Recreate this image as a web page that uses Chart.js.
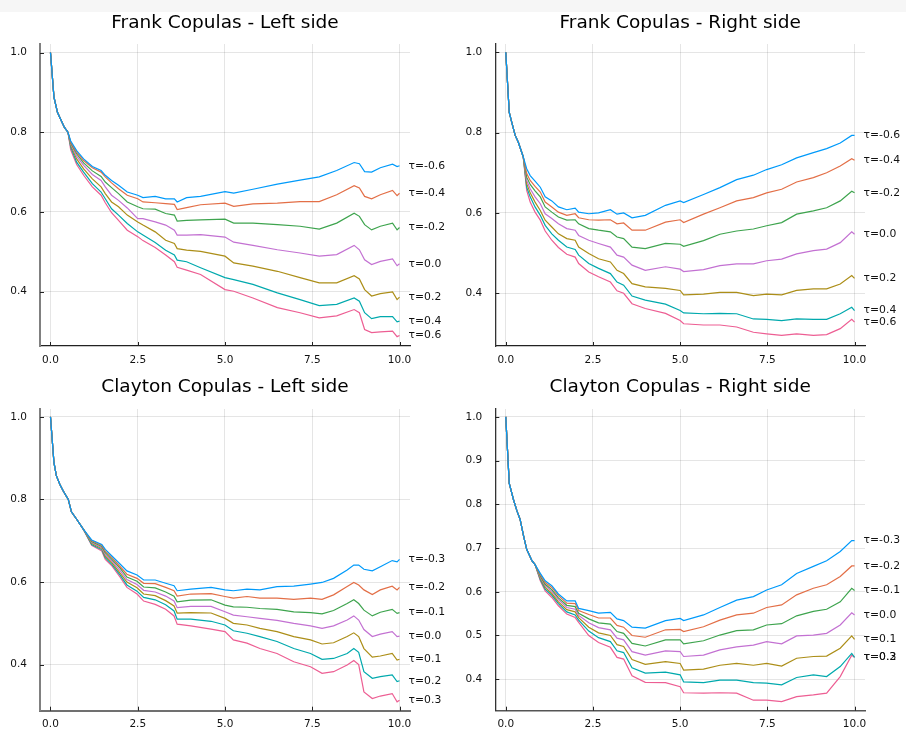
<!DOCTYPE html>
<html><head><meta charset="utf-8">
<script src="https://cdn.jsdelivr.net/npm/chart.js@4"></script>
<style>
html,body{margin:0;padding:0;background:#fff;width:906px;height:739px;overflow:hidden;}
#band{position:absolute;left:0;top:0;width:906px;height:12px;background:#f6f6f6;}
canvas{position:absolute;}
</style></head><body>
<div id="band"></div>
<canvas id="c1" width="453" height="364" style="left:0px;top:12px"></canvas>
<canvas id="c2" width="453" height="364" style="left:453px;top:12px"></canvas>
<canvas id="c3" width="453" height="363" style="left:0px;top:376px"></canvas>
<canvas id="c4" width="453" height="363" style="left:453px;top:376px"></canvas>
<script>
// ---------------- DATA ----------------
const frankTaus = ['-0.6','-0.4','-0.2','0.0','0.2','0.4','0.6'];
const claytonTaus = ['-0.3','-0.2','-0.1','0.0','0.1','0.2','0.3'];
const xTicks = [0, 2.5, 5, 7.5, 10];
const yTicksFrank = [0.4, 0.6, 0.8, 1.0];
const yTicksClaytonLeft = [0.4, 0.6, 0.8, 1.0];
const yTicksClaytonRight = [0.4, 0.5, 0.6, 0.7, 0.8, 0.9, 1.0];

// Frank - Left side
const frankLeftX = [0,0.1,0.2,0.3,0.4,0.5,0.58,0.75,0.95,1.2,1.45,1.57,1.75,1.95,2.2,2.5,2.65,3.0,3.3,3.55,3.63,3.9,4.3,5.0,5.25,5.8,6.5,7.15,7.7,8.2,8.7,8.85,9.0,9.2,9.45,9.8,9.93,10.0];
const frankLeft1 = [1.0,0.888,0.85,0.831,0.812,0.80,0.778,0.754,0.733,0.714,0.704,0.692,0.679,0.667,0.65,0.642,0.636,0.639,0.633,0.633,0.625,0.636,0.639,0.651,0.647,0.657,0.670,0.680,0.688,0.704,0.724,0.721,0.701,0.700,0.711,0.720,0.714,0.716];
const frankLeft2 = [1.0,0.888,0.85,0.831,0.812,0.80,0.775,0.75,0.729,0.711,0.70,0.688,0.673,0.658,0.642,0.633,0.625,0.623,0.621,0.619,0.606,0.611,0.618,0.622,0.614,0.62,0.622,0.626,0.626,0.643,0.666,0.66,0.639,0.633,0.643,0.654,0.641,0.647];
const frankLeft3 = [1.0,0.888,0.85,0.831,0.812,0.80,0.773,0.746,0.723,0.703,0.689,0.675,0.661,0.646,0.625,0.613,0.608,0.607,0.596,0.592,0.577,0.579,0.58,0.582,0.572,0.572,0.568,0.564,0.557,0.572,0.597,0.589,0.568,0.555,0.564,0.572,0.555,0.561];
const frankLeft4 = [1.0,0.888,0.85,0.831,0.812,0.80,0.771,0.74,0.717,0.694,0.679,0.663,0.642,0.629,0.61,0.583,0.583,0.575,0.567,0.554,0.542,0.542,0.543,0.537,0.524,0.516,0.505,0.497,0.489,0.493,0.516,0.505,0.48,0.468,0.476,0.482,0.465,0.47];
const frankLeft5 = [1.0,0.888,0.85,0.831,0.812,0.80,0.767,0.733,0.708,0.683,0.663,0.646,0.625,0.613,0.592,0.575,0.567,0.55,0.529,0.521,0.508,0.504,0.501,0.489,0.472,0.464,0.451,0.435,0.422,0.422,0.44,0.432,0.405,0.389,0.395,0.399,0.38,0.386];
const frankLeft6 = [1.0,0.888,0.85,0.831,0.812,0.80,0.763,0.725,0.70,0.671,0.65,0.633,0.608,0.592,0.571,0.55,0.542,0.523,0.504,0.492,0.479,0.475,0.46,0.435,0.43,0.418,0.397,0.38,0.365,0.368,0.384,0.376,0.347,0.332,0.337,0.337,0.324,0.326];
const frankLeft7 = [1.0,0.888,0.85,0.831,0.812,0.80,0.756,0.719,0.692,0.663,0.642,0.623,0.598,0.579,0.554,0.538,0.528,0.511,0.492,0.475,0.461,0.454,0.443,0.405,0.401,0.384,0.36,0.347,0.334,0.339,0.355,0.347,0.305,0.297,0.299,0.301,0.287,0.29];

// Frank - Right side
const frankRightX = [0,0.1,0.17,0.27,0.36,0.5,0.6,0.7,0.84,0.99,1.13,1.32,1.51,1.75,1.99,2.09,2.38,2.66,3.0,3.19,3.38,3.62,4.0,4.58,5.0,5.1,5.67,6.14,6.62,7.1,7.48,7.91,8.34,8.82,9.2,9.59,9.92,10.0];
const frankRight1 = [1.0,0.85,0.826,0.793,0.776,0.74,0.71,0.693,0.679,0.664,0.64,0.63,0.615,0.608,0.612,0.602,0.598,0.6,0.608,0.597,0.6,0.588,0.594,0.619,0.63,0.626,0.646,0.663,0.683,0.694,0.708,0.72,0.737,0.75,0.76,0.774,0.793,0.793];
const frankRight2 = [1.0,0.85,0.826,0.793,0.776,0.74,0.698,0.681,0.666,0.652,0.627,0.615,0.602,0.594,0.598,0.588,0.583,0.582,0.583,0.573,0.575,0.557,0.557,0.577,0.583,0.576,0.597,0.613,0.63,0.638,0.65,0.659,0.677,0.688,0.70,0.717,0.735,0.731];
const frankRight3 = [1.0,0.85,0.826,0.793,0.776,0.74,0.689,0.671,0.655,0.64,0.615,0.602,0.59,0.582,0.583,0.573,0.561,0.557,0.553,0.54,0.536,0.515,0.511,0.524,0.522,0.517,0.531,0.547,0.555,0.56,0.568,0.576,0.597,0.605,0.613,0.63,0.654,0.65];
const frankRight4 = [1.0,0.85,0.826,0.793,0.776,0.74,0.681,0.66,0.64,0.623,0.598,0.586,0.573,0.561,0.557,0.544,0.532,0.524,0.515,0.495,0.49,0.47,0.457,0.466,0.46,0.454,0.459,0.469,0.473,0.473,0.481,0.485,0.498,0.506,0.51,0.526,0.553,0.547];
const frankRight5 = [1.0,0.85,0.826,0.793,0.776,0.74,0.673,0.65,0.627,0.606,0.582,0.565,0.548,0.536,0.532,0.515,0.499,0.486,0.478,0.457,0.449,0.424,0.416,0.412,0.407,0.396,0.398,0.402,0.402,0.394,0.398,0.396,0.407,0.411,0.411,0.423,0.444,0.437];
const frankRight6 = [1.0,0.85,0.826,0.793,0.776,0.74,0.664,0.64,0.615,0.594,0.569,0.548,0.532,0.515,0.509,0.495,0.474,0.462,0.449,0.428,0.42,0.393,0.383,0.373,0.357,0.351,0.349,0.35,0.349,0.336,0.335,0.332,0.336,0.335,0.335,0.349,0.365,0.357];
const frankRight7 = [1.0,0.85,0.826,0.793,0.776,0.74,0.656,0.627,0.602,0.582,0.555,0.532,0.514,0.497,0.49,0.474,0.453,0.441,0.428,0.406,0.40,0.374,0.362,0.35,0.332,0.324,0.321,0.321,0.316,0.303,0.299,0.295,0.299,0.295,0.297,0.312,0.335,0.328];

// Clayton - Left side
const claytonLeftX = [0,0.1,0.17,0.27,0.37,0.51,0.6,0.75,0.94,1.18,1.47,1.57,1.76,2.0,2.19,2.48,2.67,3.0,3.3,3.54,3.63,4.02,4.6,5.0,5.24,5.63,6.0,6.49,6.97,7.45,7.78,8.11,8.5,8.69,8.83,8.98,9.22,9.45,9.79,9.93,10.0];
const claytonLeft1 = [1.0,0.889,0.857,0.836,0.82,0.80,0.77,0.752,0.728,0.702,0.691,0.679,0.663,0.643,0.627,0.617,0.605,0.605,0.597,0.591,0.579,0.583,0.587,0.581,0.579,0.583,0.581,0.589,0.59,0.595,0.599,0.609,0.629,0.641,0.641,0.631,0.627,0.637,0.652,0.649,0.655];
const claytonLeft2 = [1.0,0.889,0.857,0.836,0.82,0.80,0.77,0.752,0.728,0.700,0.689,0.675,0.659,0.637,0.619,0.609,0.597,0.596,0.587,0.579,0.566,0.571,0.572,0.565,0.561,0.565,0.561,0.561,0.558,0.561,0.558,0.569,0.589,0.599,0.593,0.581,0.57,0.581,0.59,0.581,0.587];
const claytonLeft3 = [1.0,0.889,0.857,0.836,0.82,0.80,0.77,0.752,0.728,0.698,0.686,0.671,0.655,0.633,0.612,0.602,0.588,0.586,0.576,0.566,0.552,0.556,0.557,0.544,0.54,0.539,0.536,0.534,0.528,0.526,0.523,0.531,0.548,0.557,0.548,0.532,0.518,0.527,0.534,0.524,0.526];
const claytonLeft4 = [1.0,0.889,0.857,0.836,0.82,0.80,0.77,0.752,0.728,0.696,0.683,0.667,0.651,0.627,0.606,0.594,0.580,0.576,0.566,0.554,0.538,0.541,0.541,0.528,0.52,0.516,0.512,0.507,0.5,0.494,0.488,0.494,0.508,0.518,0.508,0.485,0.468,0.474,0.48,0.468,0.469];
const claytonLeft5 = [1.0,0.889,0.857,0.836,0.82,0.80,0.77,0.752,0.728,0.694,0.681,0.663,0.647,0.621,0.60,0.586,0.571,0.567,0.555,0.542,0.525,0.526,0.525,0.512,0.50,0.496,0.488,0.48,0.468,0.46,0.45,0.453,0.468,0.477,0.468,0.439,0.418,0.421,0.427,0.411,0.413];
const claytonLeft6 = [1.0,0.889,0.857,0.836,0.82,0.80,0.77,0.752,0.728,0.691,0.678,0.659,0.643,0.616,0.593,0.578,0.563,0.557,0.545,0.530,0.51,0.51,0.505,0.496,0.482,0.476,0.468,0.456,0.439,0.427,0.413,0.415,0.427,0.439,0.43,0.383,0.367,0.371,0.375,0.359,0.361];
const claytonLeft7 = [1.0,0.889,0.857,0.836,0.82,0.80,0.77,0.752,0.728,0.689,0.675,0.655,0.639,0.611,0.587,0.571,0.554,0.546,0.534,0.518,0.498,0.494,0.486,0.48,0.46,0.452,0.439,0.427,0.407,0.395,0.379,0.383,0.399,0.41,0.40,0.334,0.318,0.324,0.33,0.31,0.314];

// Clayton - Right side
const claytonRightX = [0,0.1,0.22,0.32,0.41,0.51,0.6,0.75,0.84,0.99,1.13,1.32,1.51,1.75,1.99,2.09,2.38,2.66,3.0,3.19,3.38,3.62,4.0,4.58,5.0,5.1,5.67,6.14,6.62,7.1,7.48,7.91,8.34,8.82,9.2,9.59,9.92,10.0];
const claytonRight1 = [1.0,0.848,0.811,0.785,0.766,0.728,0.697,0.671,0.662,0.642,0.625,0.614,0.595,0.579,0.579,0.562,0.557,0.551,0.553,0.538,0.534,0.519,0.517,0.534,0.539,0.534,0.547,0.564,0.581,0.589,0.604,0.616,0.642,0.658,0.671,0.692,0.717,0.717];
const claytonRight2 = [1.0,0.848,0.811,0.785,0.766,0.728,0.697,0.671,0.662,0.639,0.621,0.610,0.591,0.574,0.573,0.557,0.548,0.54,0.54,0.523,0.519,0.50,0.496,0.513,0.514,0.509,0.52,0.535,0.547,0.551,0.564,0.57,0.593,0.608,0.616,0.635,0.659,0.659];
const claytonRight3 = [1.0,0.848,0.811,0.785,0.766,0.728,0.697,0.671,0.662,0.636,0.617,0.605,0.586,0.569,0.566,0.551,0.538,0.529,0.526,0.509,0.505,0.482,0.476,0.49,0.49,0.481,0.488,0.501,0.511,0.513,0.524,0.527,0.545,0.555,0.56,0.577,0.608,0.603];
const claytonRight4 = [1.0,0.848,0.811,0.785,0.766,0.728,0.697,0.671,0.662,0.634,0.614,0.601,0.582,0.564,0.56,0.546,0.529,0.518,0.513,0.494,0.49,0.463,0.455,0.465,0.463,0.452,0.455,0.467,0.474,0.478,0.486,0.481,0.499,0.501,0.505,0.524,0.552,0.547];
const claytonRight5 = [1.0,0.848,0.811,0.785,0.766,0.728,0.697,0.671,0.662,0.631,0.61,0.596,0.577,0.559,0.554,0.541,0.519,0.506,0.5,0.479,0.475,0.445,0.434,0.44,0.436,0.421,0.423,0.432,0.436,0.432,0.436,0.43,0.448,0.452,0.453,0.471,0.499,0.491];
const claytonRight6 = [1.0,0.848,0.811,0.785,0.766,0.728,0.697,0.671,0.662,0.628,0.606,0.592,0.573,0.554,0.547,0.535,0.51,0.495,0.486,0.465,0.461,0.426,0.414,0.416,0.41,0.394,0.392,0.398,0.398,0.392,0.391,0.387,0.404,0.41,0.406,0.429,0.459,0.45];
const claytonRight7 = [1.0,0.848,0.811,0.785,0.766,0.728,0.697,0.671,0.662,0.625,0.602,0.587,0.568,0.549,0.541,0.53,0.50,0.484,0.473,0.45,0.446,0.408,0.393,0.392,0.383,0.369,0.368,0.369,0.368,0.352,0.352,0.349,0.36,0.364,0.368,0.406,0.455,0.45];

// ---------------- STYLE ----------------
const palette = ['#009AFA','#E36F47','#3EA44E','#C371D2','#AC8E18','#00A9AD','#ED5E93'];
const FONT = '"DejaVu Sans", "Liberation Sans", sans-serif';

const endLabels = {
  id: 'endLabels',
  afterDatasetsDraw(chart) {
    const {ctx, scales: {x, y}} = chart;
    ctx.save();
    ctx.font = '10.8px ' + FONT;
    ctx.fillStyle = '#111';
    ctx.textAlign = 'left';
    ctx.textBaseline = 'middle';
    chart.data.datasets.forEach(ds => {
      const last = ds.data[ds.data.length - 1];
      ctx.fillText(ds.label, x.getPixelForValue(last.x) + 9, y.getPixelForValue(last.y));
    });
    ctx.restore();
  }
};
const innerTicks = {
  id: 'innerTicks',
  afterDraw(chart) {
    const {ctx, chartArea: a, scales: {x, y}} = chart;
    ctx.save();
    ctx.strokeStyle = '#222';
    ctx.lineWidth = 1;
    ctx.beginPath();
    y.ticks.forEach(t => { const p = Math.round(y.getPixelForValue(t.value)) + 0.5; ctx.moveTo(a.left, p); ctx.lineTo(a.left + 4, p); });
    x.ticks.forEach(t => { const p = Math.round(x.getPixelForValue(t.value)) + 0.5; ctx.moveTo(p, a.bottom); ctx.lineTo(p, a.bottom - 4); });
    ctx.stroke();
    ctx.restore();
  }
};

function makeChart(id, title, xs, series, taus, yMin, yMax, yTicks, cfg) {
  const datasets = series.map((ys, i) => ({
    label: 'τ=' + taus[i],
    data: xs.map((xv, j) => ({x: xv, y: ys[j]})),
    borderColor: palette[i],
    backgroundColor: palette[i],
    borderWidth: 1.2,
    pointRadius: 0,
    tension: 0,
    fill: false
  }));
  new Chart(document.getElementById(id), {
    type: 'line',
    data: {datasets},
    options: {
      responsive: false,
      animation: false,
      devicePixelRatio: 1,
      layout: {padding: {left: 0, right: cfg.rightPad, top: 0, bottom: 0}},
      plugins: {
        legend: {display: false},
        tooltip: {enabled: false},
        title: {
          display: true, text: title, fullSize: false,
          color: '#000',
          font: {family: FONT, size: 18.5, weight: 'normal', lineHeight: 1.2},
          padding: {top: 0, bottom: cfg.titleGap}
        }
      },
      scales: {
        x: {
          type: 'linear', min: -0.3, max: 10.3,
          afterBuildTicks: s => { s.ticks = xTicks.map(v => ({value: v})); },
          afterFit: s => { s.height = cfg.xAxisH; },
          ticks: {
            autoSkip: false, maxRotation: 0, padding: 7.5, color: '#111',
            font: {family: FONT, size: 10.5},
            callback: v => Number(v).toFixed(1)
          },
          grid: {color: 'rgba(0,0,0,0.1)', lineWidth: 1, drawTicks: false},
          border: {display: true, color: cfg.bottomColor, width: cfg.bottomWidth}
        },
        y: {
          type: 'linear', min: yMin, max: yMax,
          afterBuildTicks: s => { s.ticks = yTicks.map(v => ({value: v})); },
          afterFit: s => { s.width = cfg.yAxisW; },
          ticks: {
            autoSkip: false, padding: 13, color: '#111',
            font: {family: FONT, size: 10.5},
            callback: v => Number(v).toFixed(1)
          },
          grid: {color: 'rgba(0,0,0,0.1)', lineWidth: 1, drawTicks: false},
          border: {display: true, color: cfg.leftColor, width: cfg.leftWidth}
        }
      }
    },
    plugins: [endLabels, innerTicks]
  });
}

makeChart('c1', 'Frank Copulas - Left side', frankLeftX,
  [frankLeft1, frankLeft2, frankLeft3, frankLeft4, frankLeft5, frankLeft6, frankLeft7],
  frankTaus, 0.2635, 1.0215, yTicksFrank,
  {rightPad: 43, yAxisW: 40, xAxisH: 30, titleGap: 9.8, leftColor: '#808080', leftWidth: 2, bottomColor: '#222', bottomWidth: 1.2});
makeChart('c2', 'Frank Copulas - Right side', frankRightX,
  [frankRight1, frankRight2, frankRight3, frankRight4, frankRight5, frankRight6, frankRight7],
  frankTaus, 0.2687, 1.0206, yTicksFrank,
  {rightPad: 41, yAxisW: 42.3, xAxisH: 30, titleGap: 9.8, leftColor: '#333', leftWidth: 1.3, bottomColor: '#222', bottomWidth: 1.2});
makeChart('c3', 'Clayton Copulas - Left side', claytonLeftX,
  [claytonLeft1, claytonLeft2, claytonLeft3, claytonLeft4, claytonLeft5, claytonLeft6, claytonLeft7],
  claytonTaus, 0.2885, 1.019, yTicksClaytonLeft,
  {rightPad: 43, yAxisW: 40, xAxisH: 28.3, titleGap: 10.8, leftColor: '#808080', leftWidth: 2, bottomColor: '#707070', bottomWidth: 2});
makeChart('c4', 'Clayton Copulas - Right side', claytonRightX,
  [claytonRight1, claytonRight2, claytonRight3, claytonRight4, claytonRight5, claytonRight6, claytonRight7],
  claytonTaus, 0.328, 1.018, yTicksClaytonRight,
  {rightPad: 41, yAxisW: 42.3, xAxisH: 28.3, titleGap: 10.8, leftColor: '#333', leftWidth: 1.3, bottomColor: '#555', bottomWidth: 1.6});
</script>
</body></html>
